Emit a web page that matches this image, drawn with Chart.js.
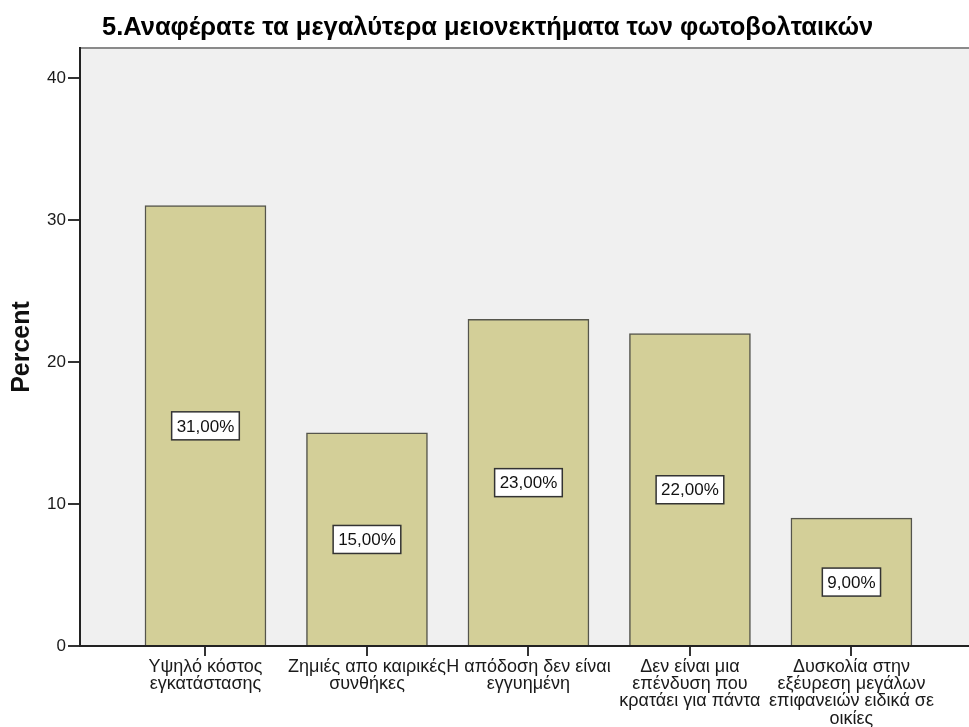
<!DOCTYPE html>
<html>
<head>
<meta charset="utf-8">
<script src="https://cdn.jsdelivr.net/npm/chart.js@4.4.1/dist/chart.umd.min.js"></script>
<style>
  html, body { margin: 0; padding: 0; background: #ffffff; }
  #wrap { width: 969px; height: 727px; }
</style>
</head>
<body>
<div id="wrap"><canvas id="chart" width="969" height="727"></canvas></div>
<script>
/**
 * Chart data
 */
const chartTitle = "5.Αναφέρατε τα μεγαλύτερα μειονεκτήματα των φωτοβολταικών";
const axisTitle = "Percent";
const categories = [
    ["Υψηλό κόστος", "εγκατάστασης"],
    ["Ζημιές απο καιρικές", "συνθήκες"],
    ["Η απόδοση δεν είναι", "εγγυημένη"],
    ["Δεν είναι μια", "επένδυση που", "κρατάει για πάντα"],
    ["Δυσκολία στην", "εξέυρεση μεγάλων", "επιφανειών ειδικά σε", "οικίες"]
];
const percents = [31, 15, 23, 22, 9];
const yTicks = [0, 10, 20, 30, 40];

const fontFamily = "'Liberation Sans', Arial, sans-serif";

//background of the plot area + top border
const plotBackground = {
    id: 'plotBackground',
    beforeDraw(chart) {
        const { ctx, chartArea: a } = chart;
        ctx.save();
        ctx.fillStyle = '#f0f0f0';
        ctx.fillRect(a.left, a.top, a.right - a.left, a.bottom - a.top);
        ctx.strokeStyle = '#8a8a8a';
        ctx.lineWidth = 2;
        ctx.beginPath();
        ctx.moveTo(a.left, a.top);
        ctx.lineTo(a.right, a.top);
        ctx.stroke();
        ctx.restore();
    }
};

//title drawn on its own, left aligned like SPSS does
const leftTitle = {
    id: 'leftTitle',
    afterDraw(chart) {
        const ctx = chart.ctx;
        ctx.save();
        ctx.fillStyle = '#000000';
        ctx.font = "bold 25.5px " + fontFamily;
        ctx.textBaseline = 'middle';
        ctx.textAlign = 'left';
        ctx.fillText(chartTitle, 102, 28);
        ctx.restore();
    }
};

//boxed value labels in the middle of every bar
const valueBoxes = {
    id: 'valueBoxes',
    afterDatasetsDraw(chart) {
        const ctx = chart.ctx;
        const yScale = chart.scales.y;
        const meta = chart.getDatasetMeta(0);
        ctx.save();
        ctx.font = "17px " + fontFamily;
        ctx.textAlign = 'center';
        ctx.textBaseline = 'middle';
        meta.data.forEach((bar, i) => {
            const v = percents[i];
            const text = v.toFixed(2).replace('.', ',') + '%';
            const y = yScale.getPixelForValue(v / 2);
            const w = ctx.measureText(text).width + 10;
            const h = 28;
            ctx.fillStyle = '#ffffff';
            ctx.fillRect(bar.x - w / 2, y - h / 2, w, h);
            ctx.strokeStyle = '#333333';
            ctx.lineWidth = 1.5;
            ctx.strokeRect(bar.x - w / 2, y - h / 2, w, h);
            ctx.fillStyle = '#111111';
            ctx.fillText(text, bar.x, y + 1);
        });
        ctx.restore();
    }
};

new Chart(document.getElementById('chart').getContext('2d'), {
    type: 'bar',
    data: {
        datasets: [{
            data: percents.map((v, i) => ({ x: i + 1, y: v })),
            backgroundColor: '#d3cf98',
            borderColor: '#55554c',
            borderWidth: 1.5,
            barThickness: 121,
        }]
    },
    options: {
        responsive: false,
        animation: false,
        devicePixelRatio: 1,
        layout: { padding: { top: 48, right: 0, left: 0, bottom: 0 } },
        plugins: {
            legend: { display: false },
            title: { display: false },
            tooltip: { enabled: false }
        },
        scales: {
            x: {
                type: 'linear',
                offset: false,
                min: 0.223,
                max: 5.728,
                afterBuildTicks: (axis) => { axis.ticks = categories.map((c, i) => ({ value: i + 1 })); },
                afterFit: (axis) => { axis.height = 81; },
                ticks: {
                    autoSkip: false,
                    maxRotation: 0,
                    padding: 2,
                    color: '#1a1a1a',
                    font: { family: fontFamily, size: 18, lineHeight: '17.3px' },
                    callback: (value) => categories[value - 1] || ''
                },
                grid: { display: true, offset: false, drawOnChartArea: false, drawTicks: true, tickLength: 10, color: '#333333', lineWidth: 2 },
                border: { display: true, color: '#222222', width: 2 }
            },
            y: {
                min: 0,
                max: 42.1,
                afterBuildTicks: (axis) => { axis.ticks = yTicks.map(v => ({ value: v })); },
                afterFit: (axis) => { axis.width = 80; },
                ticks: { padding: 2, color: '#1a1a1a', font: { family: fontFamily, size: 17 } },
                grid: { display: true, drawOnChartArea: false, drawTicks: true, tickLength: 12, color: '#333333', lineWidth: 2 },
                border: { display: true, color: '#222222', width: 2 },
                title: {
                    display: true,
                    text: axisTitle,
                    color: '#111111',
                    font: { family: fontFamily, size: 25, weight: 'bold' },
                    padding: { top: 7, bottom: 0 }
                }
            }
        }
    },
    plugins: [plotBackground, valueBoxes, leftTitle]
});
</script>
</body>
</html>
